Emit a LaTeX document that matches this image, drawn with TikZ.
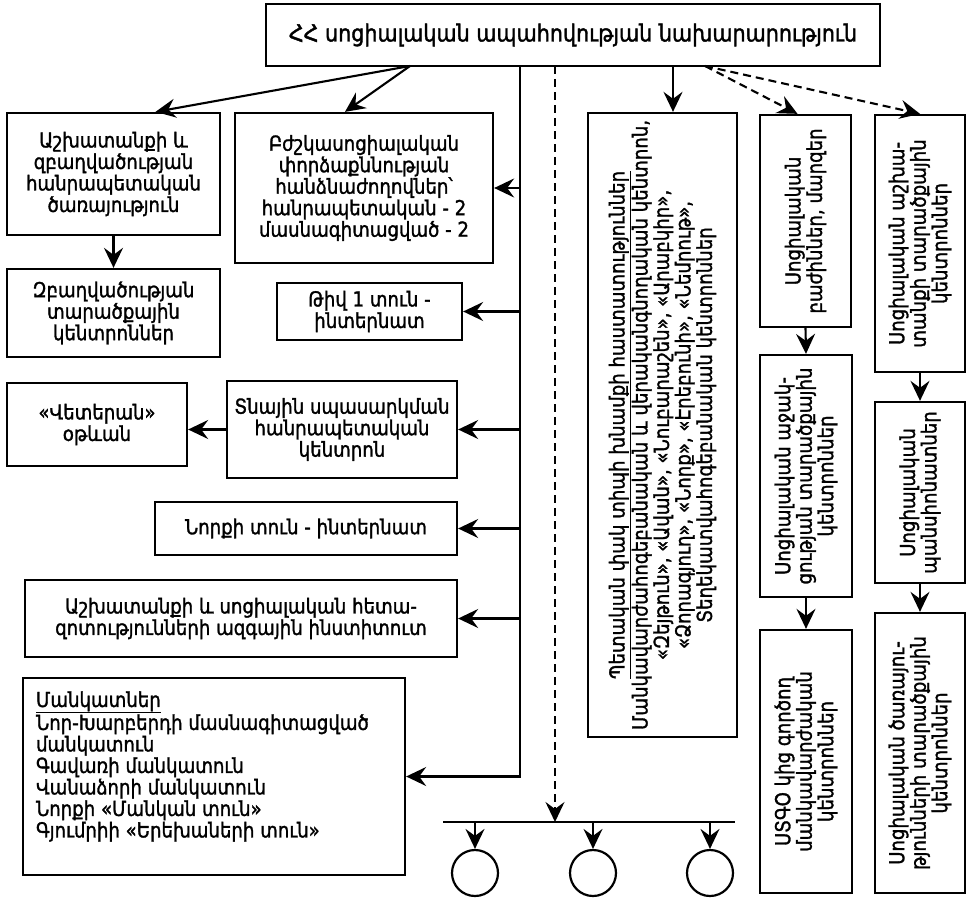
\documentclass[tikz,border=0pt]{standalone}
\usepackage{fontspec}
\setmainfont[FakeStretch=0.88,FakeBold=1.5]{DejaVu Sans}
\usetikzlibrary{arrows.meta,fit,calc}
\begin{document}
\begin{tikzpicture}[x=1pt,y=-1pt,
  box/.style={draw, line width=2.3pt, inner sep=0pt},
  txt/.style={font=\fontsize{20.6}{21.5}\selectfont, align=center, inner sep=0pt},
  arr/.style={line width=2.1pt, -{Stealth[length=20pt,width=19pt,inset=7pt]}},
  darr/.style={arr, dash pattern=on 8pt off 5pt}]
\useasboundingbox (0,0) rectangle (969,899);
% boxes
\node[box, fit={(266,4) (880,66)}] (title) {};
\node[box, fit={(7,113) (220,235)}] (ashx) {};
\node[box, fit={(7,269) (220,357)}] (zbagh) {};
\node[box, fit={(235,113) (493,263)}] (bzh) {};
\node[box, fit={(277,283) (462,340)}] (tiv) {};
\node[box, fit={(7,383) (187,466)}] (vet) {};
\node[box, fit={(227,381) (457,478)}] (tna) {};
\node[box, fit={(155,502) (457,555)}] (norq) {};
\node[box, fit={(25,580) (457,657)}] (inst) {};
\node[box, fit={(23,678) (405,875)}] (mank) {};
\node[box, fit={(588,113) (737,737)}] (c1) {};
\node[box, fit={(760,115) (851,327)}] (c2a) {};
\node[box, fit={(760,355) (852,597)}] (c2b) {};
\node[box, fit={(760,630) (852,893)}] (c2c) {};
\node[box, fit={(875,115) (965,372)}] (c3a) {};
\node[box, fit={(875,402) (965,583)}] (c3b) {};
\node[box, fit={(875,613) (965,893)}] (c3c) {};
% texts
\node[txt, font=\fontsize{23.5}{25}\selectfont] (title-t) at (title.center) {ՀՀ սոցիալական ապահովության նախարարություն};
\node[txt] (ashx-t) at (ashx.center) {Աշխատանքի և\\զբաղվածության\\հանրապետական\\ծառայություն};
\node[txt] (zbagh-t) at (zbagh.center) {Զբաղվածության\\տարածքային\\կենտրոններ};
\node[txt] (bzh-t) at (bzh.center) {Բժշկասոցիալական\\փորձաքննության\\հանձնաժողովներ՝\\հանրապետական - 2\\մասնագիտացված - 2};
\node[txt] (tiv-t) at (tiv.center) {Թիվ 1 տուն -\\ինտերնատ};
\node[txt] (vet-t) at (vet.center) {«Վետերան»\\օթևան};
\node[txt] (tna-t) at (tna.center) {Տնային սպասարկման\\հանրապետական\\կենտրոն};
\node[txt] (norq-t) at (norq.center) {Նորքի տուն - ինտերնատ};
\node[txt] (inst-t) at (inst.center) {Աշխատանքի և սոցիալական հետա-\\զոտությունների ազգային ինստիտուտ};
\node[txt, align=left, anchor=west] (mank-t) at ([xshift=14pt,yshift=10pt]mank.west) {\underline{Մանկատներ}\\Նոր-Խարբերդի մասնագիտացված\\մանկատուն\\Գավառի մանկատուն\\Վանաձորի մանկատուն\\Նորքի «Մանկան տուն»\\Գյումրիի «Երեխաների տուն»};
\node[txt, rotate=90] (c1-t) at (c1.center) {\underline{Պետական փակ տիպի խնամքի հաստատություններ}\\Մանկավարժահոգեբանական և վերականգնողական կենտրոն,\\«Զեյթուն», «Ավան», «Նուբարաշեն», «Արաբկիր»,\\«Ձորագյուղ», «Նորք», «Էրեբունի», «Նեմրութ»,\\Տեղեկատվահոգեբանական կենտրոններ};
\node[txt, rotate=90] (c2a-t) at (c2a.center) {Սոցիալական\\բաժիններ, մարզեր};
\node[txt, rotate=90] (c2b-t) at (c2b.center) {Սոցիալական աջակ-\\ցության տարածքային\\կենտրոններ};
\node[txt, rotate=90] (c2c-t) at (c2c.center) {ՍՏԳՕ կից գործող\\մանկավարժական\\կենտրոններ};
\node[txt, rotate=90] (c3a-t) at (c3a.center) {Սոցիալական աշխա-\\տանքի տարածքային\\կենտրոններ};
\node[txt, rotate=90] (c3b-t) at (c3b.center) {Սոցիալական\\պանսիոնատներ};
\node[txt, rotate=90] (c3c-t) at (c3c.center) {Սոցիալական ծառայու-\\թյունների տարածքային\\կենտրոններ};
% circles
\node[draw, circle, line width=2.2pt, minimum size=46pt, inner sep=0pt] (k1) at (475,873) {};
\node[draw, circle, line width=2.2pt, minimum size=46pt, inner sep=0pt] (k2) at (593,873) {};
\node[draw, circle, line width=2.2pt, minimum size=46pt, inner sep=0pt] (k3) at (710,873) {};
% coordinates
\coordinate (ts) at (410,66);
\coordinate (tr) at (520,66);
\coordinate (t1) at (673,66);
\coordinate (tdv) at (555,66);
\coordinate (td) at (705,66);
\coordinate (barl) at (443,822);
\coordinate (barr) at (735,822);
% connectors
\draw[arr] (ts) -- ([xshift=42pt]ashx.north);
\draw[arr] (ts) -- ([xshift=-19pt]bzh.north);
\draw[arr] (ashx.south) -- (zbagh.north);
\draw[arr] (tr) |- (mank.east);
\draw[arr] (tr |- bzh.east) -- (bzh.east);
\draw[arr] (tr |- tiv.east) -- (tiv.east);
\draw[arr] (tr |- tna.east) -- (tna.east);
\draw[arr] (tr |- norq.east) -- (norq.east);
\draw[arr] (tr |- inst.east) -- (inst.east);
\draw[arr] (tna.west) -- (tna.west -| vet.east);
\draw[arr] (t1) -- (t1 |- c1.north);
\draw[darr] (td) -- ([xshift=-8pt]c2a.north);
\draw[darr] (td) -- (c3a.north);
\draw[arr] (c2a.south) -- (c2b.north);
\draw[arr] (c2b.south) -- (c2c.north);
\draw[arr] (c3a.south) -- (c3b.north);
\draw[arr] (c3b.south) -- (c3c.north);
\draw[line width=2.1pt] (barl) -- (barr);
\draw[darr] (tdv) -- (tdv |- barl);
\draw[arr] (k1 |- barl) -- (k1.north);
\draw[arr] (k2 |- barl) -- (k2.north);
\draw[arr] (k3 |- barl) -- (k3.north);
\end{tikzpicture}
\end{document}
